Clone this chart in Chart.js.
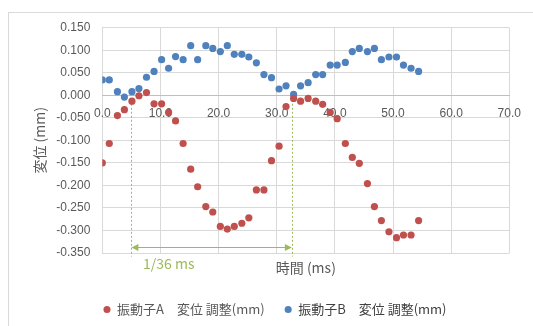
<!DOCTYPE html>
<html>
<head>
<meta charset="utf-8">
<script src="https://cdn.jsdelivr.net/npm/chart.js@4/dist/chart.umd.min.js"></script>
<style>
  html, body { margin: 0; padding: 0; background: #ffffff; }
  #wrap { position: relative; width: 533px; height: 326px; overflow: hidden; }
  #frame { position: absolute; left: 8px; top: 12px; width: 560px; height: 360px;
           border: 1px solid #d9d9d9; box-sizing: border-box; }
  #c { position: absolute; left: 0; top: 0; }
</style>
</head>
<body>
<div id="wrap">
  <div id="frame"></div>
  <canvas id="c" width="533" height="326"></canvas>
</div>
<script>
// Sample times (ms)
const timesMs = [0, 1.2, 2.6, 3.8, 5.1, 6.3, 7.6, 8.9, 10.2, 11.4, 12.6, 13.9, 15.2, 16.4, 17.8,
  19.0, 20.3, 21.5, 22.7, 24.0, 25.2, 26.5, 27.8, 29.1, 30.4, 31.6, 32.9, 34.1, 35.4, 36.7,
  37.9, 39.2, 40.4, 41.8, 43.0, 44.2, 45.6, 46.8, 48.0, 49.3, 50.6, 51.8, 53.1, 54.4];

// Oscillator A displacement (mm)
const dispA = [-0.150, -0.107, -0.045, -0.032, -0.013, -0.001, 0.006, -0.019, -0.019, -0.038,
  -0.057, -0.107, -0.164, -0.203, -0.247, -0.259, -0.291, -0.297, -0.291, -0.284,
  -0.272, -0.210, -0.210, -0.145, -0.113, -0.025, -0.007, -0.013, -0.007, -0.013,
  -0.020, -0.038, -0.052, -0.107, -0.138, -0.151, -0.196, -0.247, -0.278, -0.303,
  -0.316, -0.310, -0.310, -0.278];

// Oscillator B displacement (mm)
const dispB = [0.034, 0.034, 0.008, -0.004, 0.008, 0.015, 0.040, 0.053, 0.079, 0.060,
  0.086, 0.079, 0.110, 0.079, 0.110, 0.104, 0.097, 0.110, 0.091, 0.091,
  0.085, 0.072, 0.046, 0.039, 0.014, 0.021, 0.002, 0.021, 0.028, 0.046,
  0.046, 0.067, 0.067, 0.073, 0.097, 0.104, 0.097, 0.104, 0.079, 0.085,
  0.085, 0.067, 0.060, 0.053];

const seriesNames = ['振動子A　変位 調整(mm)', '振動子B　変位 調整(mm)'];

// Period marker: two dashed drop lines joined by a double arrow
const periodMarks = [5.0, 32.6];
const periodArrowLevel = -0.337;
const periodDropRange = [-0.010, -0.358];
const periodText = '1/36 ms';
const periodTextPos = [7.0, -0.373];

const toPoints = (xs, ys) => xs.map((t, i) => ({ x: t, y: ys[i] }));

const GREEN = '#9bbb59';
const GRID = '#d9d9d9';
const TEXT = '#595959';
const NUM_FONT = "'Liberation Sans', Arial, sans-serif";
const CJK_FONT = "'Noto Sans CJK JP', 'Noto Sans', sans-serif";

const periodPlugin = {
  id: 'periodMarker',
  beforeDatasetsDraw(chart) {
    const { ctx } = chart;
    const xs = chart.scales.x, ys = chart.scales.y;
    ctx.save();
    ctx.strokeStyle = GREEN;
    ctx.fillStyle = GREEN;
    ctx.lineWidth = 1;
    // dashed drop lines
    ctx.setLineDash([2, 2]);
    periodMarks.forEach(t => {
      const px = Math.round(xs.getPixelForValue(t)) + 0.5;
      ctx.beginPath();
      ctx.moveTo(px, ys.getPixelForValue(periodDropRange[0]));
      ctx.lineTo(px, ys.getPixelForValue(periodDropRange[1]));
      ctx.stroke();
    });
    // double arrow
    ctx.setLineDash([]);
    const x1 = xs.getPixelForValue(periodMarks[0]);
    const x2 = xs.getPixelForValue(periodMarks[1]);
    const ay = Math.round(ys.getPixelForValue(periodArrowLevel)) + 0.5;
    ctx.beginPath();
    ctx.moveTo(x1 + 6, ay);
    ctx.lineTo(x2 - 6, ay);
    ctx.stroke();
    const head = (tip, dir) => {
      ctx.beginPath();
      ctx.moveTo(tip, ay);
      ctx.lineTo(tip + dir * 7, ay - 3.5);
      ctx.lineTo(tip + dir * 7, ay + 3.5);
      ctx.closePath();
      ctx.fill();
    };
    head(x1, 1);
    head(x2, -1);
    // label
    ctx.font = "14px " + CJK_FONT;
    ctx.textAlign = 'left';
    ctx.textBaseline = 'middle';
    ctx.fillText(periodText, xs.getPixelForValue(periodTextPos[0]), ys.getPixelForValue(periodTextPos[1]));
    ctx.restore();
  }
};

new Chart(document.getElementById('c'), {
  type: 'scatter',
  data: {
    datasets: [
      { label: seriesNames[0], data: toPoints(timesMs, dispA), backgroundColor: '#c0504d',
        borderWidth: 0, pointRadius: 3.6, pointHoverRadius: 3.6, pointStyle: 'circle' },
      { label: seriesNames[1], data: toPoints(timesMs, dispB), backgroundColor: '#4f81bd',
        borderWidth: 0, pointRadius: 3.6, pointHoverRadius: 3.6, pointStyle: 'circle' }
    ]
  },
  options: {
    responsive: false,
    animation: false,
    layout: { padding: { left: 17, right: 0, top: 27.7, bottom: 0 } },
    scales: {
      x: {
        type: 'linear', position: 'bottom', min: 0, max: 70,
        ticks: { display: false, stepSize: 10 },
        grid: { color: GRID, drawTicks: false },
        border: { display: false },
        title: { display: true, text: '時間 (ms)', color: TEXT,
                 font: { family: CJK_FONT, size: 14 }, padding: { top: 0, bottom: 7.3 } },
        afterFit(s) { s.height = 30; }
      },
      xAxisLabels: {
        type: 'linear', position: { y: 0 }, min: 0, max: 70,
        ticks: { stepSize: 10, padding: 11, color: TEXT, font: { family: NUM_FONT, size: 12 },
                 callback: v => Number(v).toFixed(1) },
        grid: { display: false, drawTicks: false },
        border: { display: true, color: '#bfbfbf' }
      },
      y: {
        type: 'linear', position: 'left', min: -0.35, max: 0.15,
        ticks: { stepSize: 0.05, padding: 12, color: TEXT, font: { family: NUM_FONT, size: 12 },
                 callback: v => (Math.abs(v) < 1e-9 ? 0 : v).toFixed(3) },
        grid: { color: GRID, drawTicks: false },
        border: { display: false },
        title: { display: true, text: '変位 (mm)', color: TEXT,
                 font: { family: CJK_FONT, size: 14 }, padding: { top: 14.6, bottom: 0 } },
        afterFit(s) { s.width = 85.3; }
      },
      rightGap: {
        type: 'linear', position: 'right', display: true,
        ticks: { display: false }, grid: { display: false }, border: { display: false },
        afterFit(s) { s.width = 23.7; }
      }
    },
    plugins: {
      legend: {
        position: 'bottom',
        labels: {
          usePointStyle: true, boxWidth: 7, boxHeight: 5, padding: 20, color: TEXT,
          font: { family: CJK_FONT, size: 13 },
          generateLabels(chart) {
            const items = Chart.defaults.plugins.legend.labels.generateLabels(chart);
            if (items[1]) items[1].fontColor = '#404040';
            return items;
          }
        }
      },
      tooltip: { enabled: false }
    }
  },
  plugins: [periodPlugin]
});
</script>
</body>
</html>
